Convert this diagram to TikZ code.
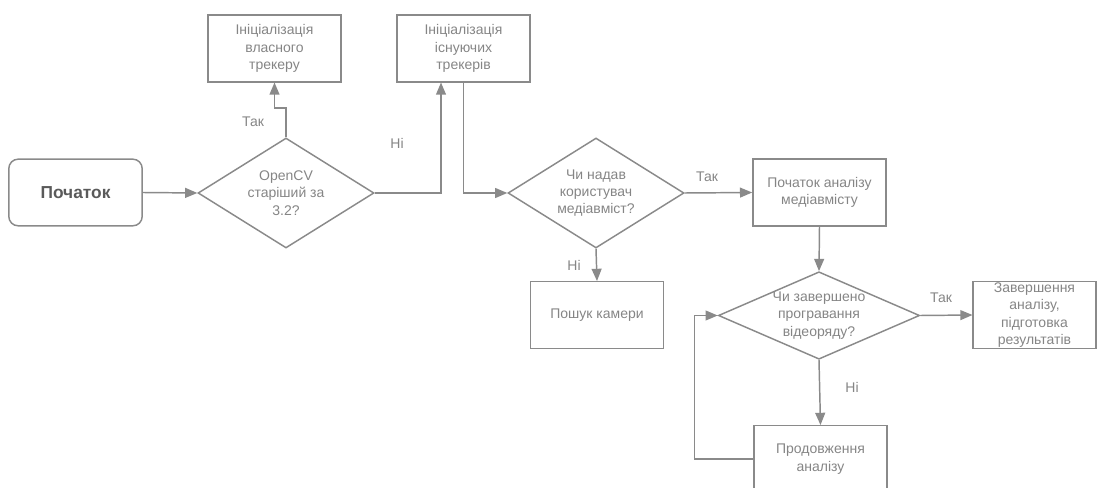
\documentclass[tikz,border=0pt]{standalone}
\usepackage{fontspec}
\setmainfont{Liberation Sans}
\usepackage{tikz}
\usetikzlibrary{arrows,shapes,calc}
\definecolor{linegray}{HTML}{8A8A8A}
\definecolor{textgray}{HTML}{858585}
\definecolor{startgray}{HTML}{5A5A5A}
\tikzstyle{block}=[rectangle,draw=linegray,line width=1.1pt,text=textgray,align=center,
    minimum width=100pt,minimum height=50pt,inner sep=0pt,font=\fontsize{10.5}{13}\selectfont]
\tikzstyle{startblock}=[block,rounded corners=7pt,text=startgray,font=\fontsize{13}{15}\selectfont\bfseries]
\tikzstyle{decision}=[diamond,draw=linegray,line width=1.1pt,text=textgray,align=center,
    inner sep=0pt,font=\fontsize{10.5}{13}\selectfont]
\tikzstyle{answer}=[text=textgray,font=\fontsize{10.5}{12}\selectfont]
\tikzstyle{edge} = [draw,line width=1.1pt,linegray,-triangle 45]

\begin{document}
\begin{tikzpicture}[x=0.75pt,y=-0.75pt]
    \useasboundingbox (0,0) rectangle (1097,488);
    % First we draw the blocks
    \node[startblock] (start) at (75.5,192.5) {Початок};
    \node[decision,shape aspect=1.6,minimum width=132pt,minimum height=82.5pt] (cv) at (286,193) {OpenCV\\старіший за\\3.2?};
    \node[block] (own) at (274.5,48.5) {Ініціалізація\\власного\\трекеру};
    \node[block] (exist) at (463.5,48.5) {Ініціалізація\\існуючих\\трекерів};
    \node[decision,shape aspect=1.6,minimum width=132pt,minimum height=82.5pt] (media) at (596,193) {Чи надав\\користувач\\медіавміст?};
    \node[block] (analysis) at (819.5,192.5) {Початок аналізу\\медіавмісту};
    \node[block] (camera) at (597,315) {Пошук камери};
    \node[decision,shape aspect=2.3,minimum width=148.5pt,minimum height=65pt] (done) at (819,315.5) {Чи завершено\\програвання\\відеоряду?};
    \node[block,minimum width=92pt] (finish) at (1034.5,315) {Завершення\\аналізу,\\підготовка\\результатів};
    \node[block] (cont) at (820.5,459) {Продовження\\аналізу};
    % Answers
    \node[answer] (yes1) at (253,122) {Так};
    \node[answer] (no1) at (397,143) {Ні};
    \node[answer] (yes2) at (707,177) {Так};
    \node[answer] (no2) at (574,265) {Ні};
    \node[answer] (yes3) at (941,298) {Так};
    \node[answer] (no3) at (852,387) {Ні};
    % Connect blocks with edges
    \coordinate (k1) at (286,108);
    \path[edge] (cv.north) -- (k1) -| (own.south);
    \path[edge] (cv.east) -| ($(exist.south)+(-22.5,0)$);
    \path[edge] (exist.south) |- (media.west);
    \foreach \source/ \dest in {start/cv, media/analysis, done/finish}
        \path[edge] (\source.east) -- (\dest.west);
    \foreach \source/ \dest in {media/camera, analysis/done, done/cont}
        \path[edge] (\source.south) -- (\dest.north);
    \path[edge] (cont.west) -| ($(done.west)+(-23,0)$) -- (done.west);
\end{tikzpicture}
\end{document}
